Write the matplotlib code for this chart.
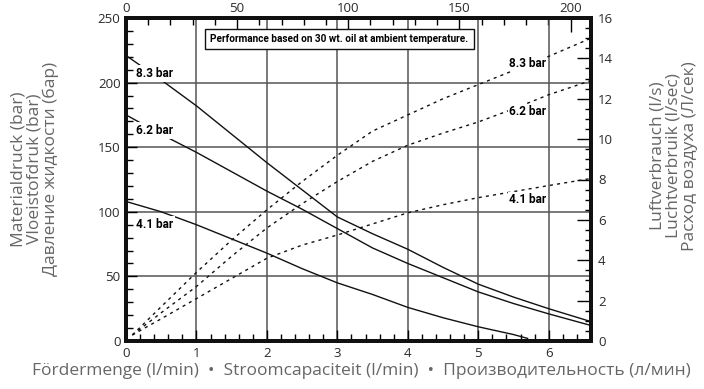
import numpy as np
import matplotlib.pyplot as plt
from matplotlib.ticker import MultipleLocator

# fluid flow (l/min) and readings for each air pressure
flow = [0, 0.5, 1.0, 1.5, 2.0, 2.5, 3.0, 3.5, 4.0, 4.5, 5.0, 5.5, 6.0, 6.6]
press_83 = [221, 202, 182, 160, 138, 117, 96, 83, 71, 57, 44, 34, 25, 15]
press_62 = [175, 160, 146, 131, 116, 102, 87, 72, 60, 49, 38, 29, 21, 12]
flow_41 = [0, 0.5, 1.0, 1.5, 2.0, 2.5, 3.0, 3.5, 4.0, 4.5, 5.0, 5.5, 5.7]
press_41 = [108, 100, 90, 79, 68, 56, 45, 36, 26, 18, 11, 5, 2]

# air consumption (l/s)
air_flow = [0.09, 0.5, 1.0, 1.5, 2.0, 2.5, 3.0, 3.5, 4.0, 4.5, 5.0, 5.5, 6.0, 6.6]
air_83 = [0.3, 1.7, 3.4, 5.0, 6.5, 7.9, 9.2, 10.4, 11.2, 12.0, 12.7, 13.4, 14.1, 15.0]
air_62 = [0.3, 1.4, 2.7, 4.2, 5.6, 6.8, 7.9, 8.9, 9.7, 10.3, 10.85, 11.5, 12.2, 12.9]
air_41 = [0.3, 1.1, 2.1, 3.1, 4.1, 4.75, 5.25, 5.8, 6.35, 6.75, 7.1, 7.4, 7.7, 8.05]

labels = ['8.3 bar', '6.2 bar', '4.1 bar']
left_label_pos = [(0.41, 207), (0.41, 163), (0.41, 90)]
right_label_pos = [(5.7, 13.77), (5.7, 11.35), (5.7, 7.0)]

top_factor = 31.7  # top scale units per l/min

plt.rcParams['font.family'] = ['Open Sans', 'DejaVu Sans']
bold_font = ['Roboto', 'DejaVu Sans']

fig = plt.figure(figsize=(7.04, 3.89), dpi=100)
ax = fig.add_axes([126/704, 1-341/389, (591-126)/704, (341-18)/389])
ax2 = ax.twinx()

lc = '#111111'
ax.plot(flow, press_83, color=lc, lw=1.0, zorder=3)
ax.plot(flow, press_62, color=lc, lw=1.0, zorder=3)
ax.plot(flow_41, press_41, color=lc, lw=1.0, zorder=3)

ds = (2.2, 3.0)
ax2.plot(air_flow, air_83, color=lc, lw=1.0, dashes=ds)
ax2.plot(air_flow, air_62, color=lc, lw=1.0, dashes=ds)
ax2.plot(air_flow, air_41, color=lc, lw=1.0, dashes=ds)

ax.set_xlim(0, 6.6)
ax.set_ylim(0, 250)
ax2.set_ylim(0, 16)

ax.set_xticks(range(0, 7))
ax.xaxis.set_minor_locator(MultipleLocator(0.2))
ax.set_yticks(range(0, 251, 50))
ax.yaxis.set_minor_locator(MultipleLocator(10))
ax2.set_yticks(range(0, 17, 2))
ax2.yaxis.set_minor_locator(MultipleLocator(0.5))

ax.grid(True, which='major', color='#555555', lw=1.1)
ax.set_axisbelow(True)

tick_col = '#2a2a2a'
ax.tick_params(axis='x', which='major', direction='in', length=8, width=1, pad=4,
               labelsize=9.5, labelcolor=tick_col)
ax.tick_params(axis='x', which='minor', direction='in', length=5, width=1)
ax.tick_params(axis='y', which='major', direction='in', length=8, width=1, pad=4,
               labelsize=9.5, labelcolor=tick_col)
ax.tick_params(axis='y', which='minor', direction='in', length=5, width=1)
ax2.tick_params(axis='y', which='major', direction='in', length=10, width=1, pad=5,
                labelsize=9.5, labelcolor=tick_col)
ax2.tick_params(axis='y', which='minor', direction='in', length=4, width=1)

top = ax.secondary_xaxis('top', functions=(lambda x: x * top_factor, lambda x: x / top_factor))
top.set_xticks(range(0, 201, 50))
top.xaxis.set_minor_locator(MultipleLocator(10))
top.tick_params(which='major', direction='in', length=10, width=1, pad=2,
                labelsize=9.5, labelcolor=tick_col)
top.tick_params(which='minor', direction='in', length=5, width=1)

for a in (ax, ax2):
    for s in a.spines.values():
        s.set_linewidth(2.8)
        s.set_color('#111111')
top.spines['top'].set_linewidth(2.8)

for lab, (x, y) in zip(labels, left_label_pos):
    ax.text(x, y, lab, family=bold_font, fontweight='bold', fontsize=8.5,
            ha='center', va='center', zorder=4,
            bbox=dict(boxstyle='square,pad=0.15', fc='white', ec='none'))
for lab, (x, y) in zip(labels, right_label_pos):
    ax2.text(x, y, lab, family=bold_font, fontweight='bold', fontsize=8.5,
             ha='center', va='center', zorder=4,
             bbox=dict(boxstyle='square,pad=0.1', fc='white', ec='none'))

ax.text(3.03, 233.8, 'Performance based on 30 wt. oil at ambient temperature.',
        family=bold_font, fontweight='bold', fontsize=7.2, ha='center', va='center',
        zorder=5, bbox=dict(boxstyle='square,pad=0.5', fc='white', ec='#111111', lw=1))

lab_col = '#666666'
fig.text(35/704, 1-169/389, 'Materialdruck (bar)\nVloeistofdruk (bar)\nДавление жидкости (бар)',
         rotation=90, ha='center', va='center', multialignment='center',
         fontsize=12.5, color=lab_col, linespacing=1.0)
fig.text(674/704, 1-156/389, 'Luftverbrauch (l/s)\nLuchtverbruik (l/sec)\nРасход воздуха (Л/сек)',
         rotation=90, ha='center', va='center', multialignment='center',
         fontsize=12.5, color=lab_col, linespacing=1.0)
fig.text(361/704, 1-371/389,
         'Fördermenge (l/min)  •  Stroomcapaciteit (l/min)  •  Производительность (л/мин)',
         ha='center', va='center', fontsize=12.5, color=lab_col)

fig.savefig('out.png', dpi=100)
